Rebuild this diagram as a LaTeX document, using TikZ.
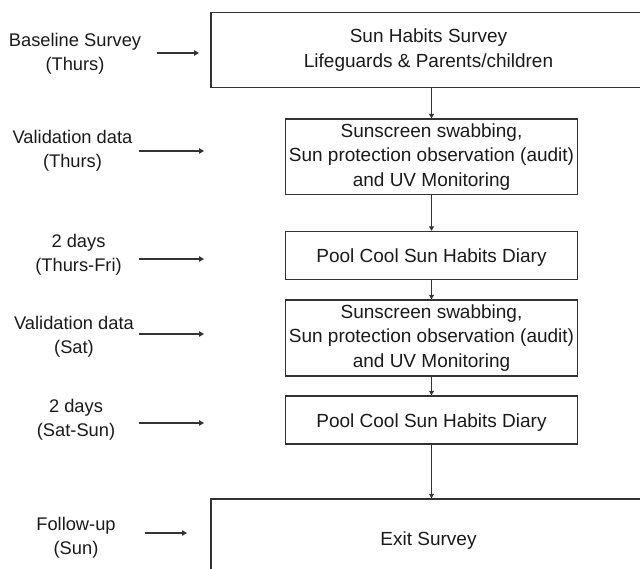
\documentclass[tikz,border=0pt]{standalone}
\usepackage{fontspec}
\setmainfont{Liberation Sans}
\usetikzlibrary{arrows.meta}
\definecolor{linec}{HTML}{333333}
\definecolor{textc}{HTML}{1A1A1A}
\begin{document}
\begin{tikzpicture}[x=1pt,y=-1pt,
  txt/.style={text=textc, align=center, inner sep=0pt, execute at begin node={\rule{0pt}{18.5pt}}},
  box/.style={txt, font=\fontsize{19}{24.5}\selectfont, draw=linec, line width=1.4pt},
  lbl/.style={txt, font=\fontsize{18.3}{24}\selectfont},
  flow/.style={draw=linec, line width=1.4pt, -{Triangle[length=4.5pt,width=5pt]}},
  side/.style={draw=linec, line width=2.1pt, -{Triangle[length=5pt,width=5.5pt]}}]
\useasboundingbox (0,0) rectangle (640,569);
\clip (0,0) rectangle (640,569);
% boxes
\node[box, minimum width=435pt, minimum height=75pt] (b1) at (428.5,50.2)
  {Sun Habits Survey\\Lifeguards \& Parents/children};
\node[box, minimum width=292.4pt, minimum height=75.3pt] (b2) at (431.5,156.7)
  {Sunscreen swabbing,\\Sun protection observation (audit)\\and UV Monitoring};
\node[box, minimum width=292.4pt, minimum height=48pt] (b3) at (431.5,255.5)
  {Pool Cool Sun Habits Diary};
\node[box, minimum width=292.4pt, minimum height=76pt] (b4) at (431.5,338)
  {Sunscreen swabbing,\\Sun protection observation (audit)\\and UV Monitoring};
\node[box, minimum width=292.4pt, minimum height=48pt] (b5) at (431.5,420)
  {Pool Cool Sun Habits Diary};
\node[box, minimum width=435pt, minimum height=78pt] (b6) at (428.5,538)
  {Exit Survey};
% left labels
\node[lbl] (l1) at (75,53.5) {Baseline Survey\\(Thurs)};
\node[lbl] (l2) at (72.5,150.5) {Validation data\\(Thurs)};
\node[lbl] (l3) at (78.5,255) {2 days\\(Thurs-Fri)};
\node[lbl] (l4) at (74,337) {Validation data\\(Sat)};
\node[lbl] (l5) at (76,419.5) {2 days\\(Sat-Sun)};
\node[lbl] (l6) at (76,537.5) {Follow-up\\(Sun)};
% arrow endpoints
\coordinate (s1) at (157,53);  \coordinate (e1) at (199,53);
\coordinate (s2) at (139,151); \coordinate (e2) at (204,151);
\coordinate (s3) at (139,259); \coordinate (e3) at (204,259);
\coordinate (s4) at (139,334); \coordinate (e4) at (204,334);
\coordinate (s5) at (139,423); \coordinate (e5) at (204,423);
\coordinate (s6) at (145,533); \coordinate (e6) at (187,533);
\foreach \i in {1,...,6} {\draw[side] (s\i) -- (e\i);}
% flow arrows
\draw[flow] (b1.south -| b2.north) -- (b2.north);
\draw[flow] (b2.south) -- (b3.north);
\draw[flow] (b3.south) -- (b4.north);
\draw[flow] (b4.south) -- (b5.north);
\draw[flow] (b5.south) -- (b5.south |- b6.north);
\end{tikzpicture}
\end{document}
